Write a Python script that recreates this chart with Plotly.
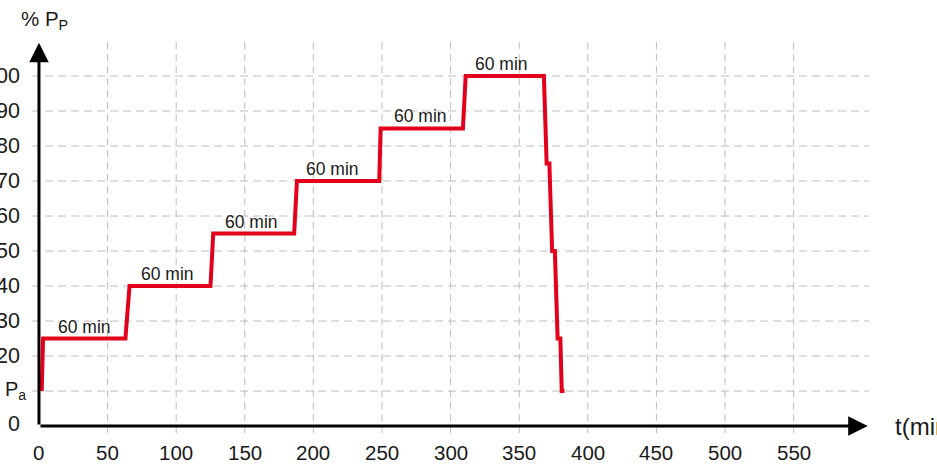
import plotly.graph_objects as go

# ---- data ----
t_min = [2, 3, 63, 66, 125, 127, 186, 188, 248, 249, 309, 311, 368, 370, 372, 374, 376, 378, 380, 381, 383]
p_pct = [10, 25, 25, 40, 40, 55, 55, 70, 70, 85, 85, 100, 100, 75, 75, 50, 50, 25, 25, 10, 10]

step_label_x = [33, 94, 155, 214, 278, 337]
step_label_y = [25, 40, 55, 70, 85, 100]
step_label_text = "60 min"

x_ticks = [0, 50, 100, 150, 200, 250, 300, 350, 400, 450, 500, 550]
y_ticks = [0, 10, 20, 30, 40, 50, 60, 70, 80, 90, 100]
y_tick_labels = ["0", "P<sub>a</sub>", "20", "30", "40", "50", "60", "70", "80", "90", "100"]

x_label = "t(min)"
y_label = "% P<sub>P</sub>"

RED = "#e2001a"
GRID = "#bdbdbd"
TXT = "#1a1a1a"
FONT = "Liberation Sans, Arial, sans-serif"

fig = go.Figure()
fig.add_trace(go.Scatter(x=t_min, y=p_pct, mode="lines",
                         line=dict(color=RED, width=4), hoverinfo="skip", showlegend=False))

shapes = []
# horizontal dashed grid
for yv in y_ticks[1:]:
    shapes.append(dict(type="line", xref="x", yref="y", x0=-5, x1=605, y0=yv, y1=yv,
                       line=dict(color=GRID, width=1, dash="8px,5px"), layer="below"))
# vertical dashed grid
for xv in x_ticks[1:]:
    shapes.append(dict(type="line", xref="x", yref="y", x0=xv, x1=xv, y0=-2, y1=110,
                       line=dict(color=GRID, width=1, dash="7px,5px"), layer="below"))

annotations = []
# axes with arrows
annotations.append(dict(x=604, y=0, ax=0, ay=0, xref="x", yref="y", axref="x", ayref="y",
                        text="", showarrow=True, arrowhead=2, arrowsize=1.3, arrowwidth=3,
                        arrowcolor="black", standoff=0, startstandoff=0))
annotations.append(dict(x=0, y=109.5, ax=0, ay=0, xref="x", yref="y", axref="x", ayref="y",
                        text="", showarrow=True, arrowhead=2, arrowsize=1.3, arrowwidth=3,
                        arrowcolor="black", standoff=0, startstandoff=0))

# x tick labels
for xv in x_ticks:
    annotations.append(dict(x=xv, y=0, xref="x", yref="y", text=str(xv), showarrow=False,
                            yshift=-26, xanchor="center", yanchor="middle",
                            font=dict(family=FONT, size=20.5, color=TXT)))
# y tick labels
for yv, lab in zip(y_ticks, y_tick_labels):
    if yv == 10:
        annotations.append(dict(x=0, y=yv, xref="x", yref="y", text=lab, showarrow=False,
                                xshift=-11, yshift=1, xanchor="right", yanchor="middle",
                                font=dict(family=FONT, size=20, color=TXT)))
    else:
        annotations.append(dict(x=0, y=yv, xref="x", yref="y", text=lab, showarrow=False,
                                xshift=-17, yshift=2 if yv == 0 else 0,
                                xanchor="right", yanchor="middle",
                                font=dict(family=FONT, size=21.5, color=TXT)))

# step labels
for xv, yv in zip(step_label_x, step_label_y):
    annotations.append(dict(x=xv, y=yv, xref="x", yref="y", text=step_label_text, showarrow=False,
                            yshift=12, xanchor="center", yanchor="middle",
                            font=dict(family=FONT, size=17.5, color=TXT)))

# axis titles
annotations.append(dict(x=0, y=116, xref="x", yref="y", text=y_label, showarrow=False,
                        xanchor="center", yanchor="middle", xshift=6,
                        font=dict(family=FONT, size=20.5, color=TXT)))
annotations.append(dict(x=604, y=0, xref="x", yref="y", text=x_label, showarrow=False,
                        xanchor="left", yanchor="middle", xshift=25,
                        font=dict(family=FONT, size=24, color=TXT)))

fig.update_layout(
    width=937, height=466,
    margin=dict(l=0, r=0, t=0, b=0),
    paper_bgcolor="white", plot_bgcolor="white",
    xaxis=dict(range=[-28.4, 654.5], visible=False, fixedrange=True),
    yaxis=dict(range=[-11.4, 121.7], visible=False, fixedrange=True),
    shapes=shapes, annotations=annotations, showlegend=False,
)

fig.write_html("out.html", config={"displayModeBar": False},
               post_script="document.body.style.margin='0';document.body.style.overflow='hidden';")
